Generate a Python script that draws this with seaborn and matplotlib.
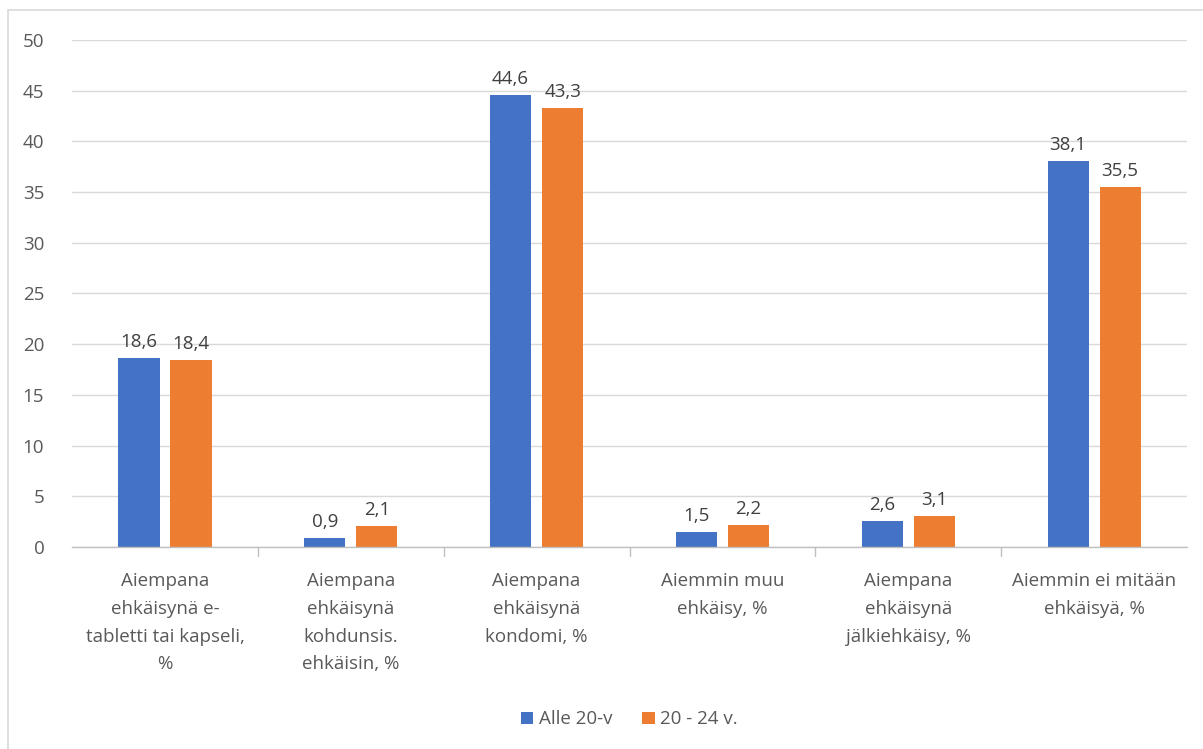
import matplotlib
matplotlib.use("Agg")
import matplotlib.pyplot as plt
import matplotlib.patches as mpatches
import seaborn as sns
import pandas as pd

categories = [
    "Aiempana\nehkäisynä e-\ntabletti tai kapseli,\n%",
    "Aiempana\nehkäisynä\nkohdunsis.\nehkäisin, %",
    "Aiempana\nehkäisynä\nkondomi, %",
    "Aiemmin muu\nehkäisy, %",
    "Aiempana\nehkäisynä\njälkiehkäisy, %",
    "Aiemmin ei mitään\nehkäisyä, %",
]
series_names = ["Alle 20-v", "20 - 24 v."]
alle20 = [18.6, 0.9, 44.6, 1.5, 2.6, 38.1]
v20_24 = [18.4, 2.1, 43.3, 2.2, 3.1, 35.5]
colors = ["#4472C4", "#ED7D31"]

df = pd.DataFrame({
    "cat": categories * 2,
    "series": [series_names[0]] * 6 + [series_names[1]] * 6,
    "value": alle20 + v20_24,
})

sns.set_theme(style="white")
plt.rcParams["font.family"] = ["Open Sans", "DejaVu Sans"]
txt = "#595959"
fs = 13.5

fig = plt.figure(figsize=(12.03, 7.49), dpi=100)
ax = fig.add_axes([0.0599, 0.2697, 0.9268, 0.6769])

sns.barplot(data=df, x="cat", y="value", hue="series", palette=colors,
            width=0.56, gap=0.21, ax=ax, saturation=1, legend=True,
            order=categories, hue_order=series_names, linewidth=0)

for cont in ax.containers:
    ax.bar_label(cont, labels=[f"{v:.1f}".replace(".", ",") for v in cont.datavalues],
                 padding=5, fontsize=fs, color="#404040")

ax.set_ylim(0, 50)
ax.set_yticks(range(0, 51, 5))
ax.set_xlim(-0.5, 5.5)
ax.set_xlabel("")
ax.set_ylabel("")
ax.yaxis.grid(True, color="#d9d9d9", linewidth=1)
ax.set_axisbelow(True)
for s in ["top", "right", "left"]:
    ax.spines[s].set_visible(False)
ax.spines["bottom"].set_color("#bfbfbf")
ax.spines["bottom"].set_linewidth(1)
ax.tick_params(axis="y", length=0, labelsize=fs, labelcolor=txt, pad=20)
ax.tick_params(axis="x", length=0, labelsize=fs, labelcolor=txt, pad=18)
ax.set_xticks(range(6))
ax.set_xticklabels(categories, linespacing=1.7)
# category separator ticks
for b in [0.5, 1.5, 2.5, 3.5, 4.5]:
    ax.plot([b, b], [0, -0.9], color="#bfbfbf", lw=1, clip_on=False)

leg = ax.legend(loc="center", bbox_to_anchor=(0.5, -0.34), ncol=2, frameon=False,
                fontsize=fs, handlelength=0.65, handleheight=0.65, columnspacing=1.6,
                handletextpad=0.3)
for t in leg.get_texts():
    t.set_color(txt)

fig.patches.append(mpatches.Rectangle((8 / 1203, -0.01), 1.0, 1 - 10 / 749 + 0.01,
                                      transform=fig.transFigure, fill=False,
                                      edgecolor="#d9d9d9", linewidth=1.2))

fig.savefig("out.png", dpi=100)
